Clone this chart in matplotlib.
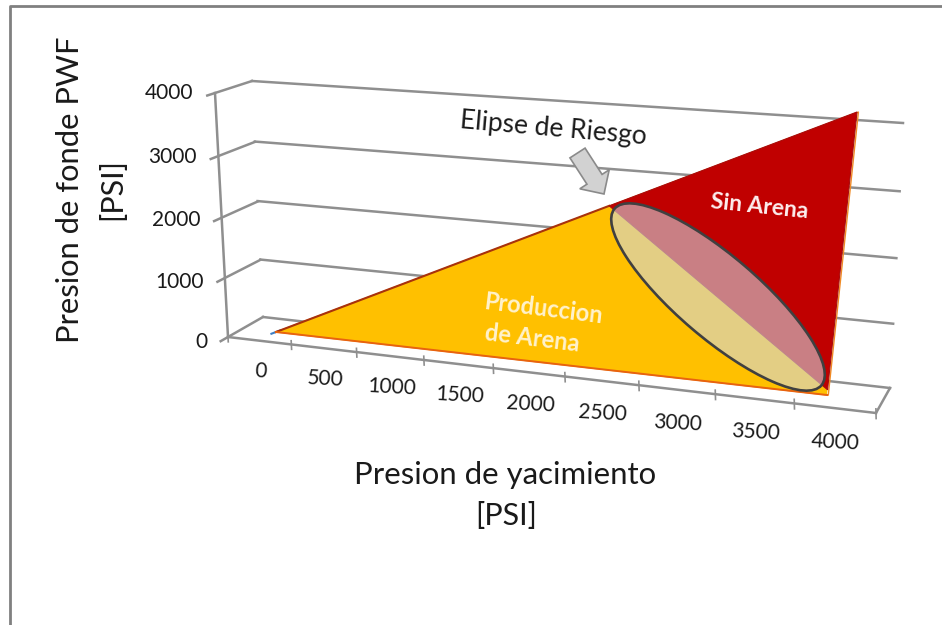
import matplotlib
matplotlib.use("Agg")
import matplotlib.pyplot as plt
import matplotlib.patches as mpatches
import matplotlib.transforms as mtrans
import numpy as np

plt.rcParams['font.family'] = ['Lato', 'DejaVu Sans']

# axis values
pres_ticks = [0, 500, 1000, 1500, 2000, 2500, 3000, 3500, 4000]
pwf_ticks = [0, 1000, 2000, 3000, 4000]

# series (psi)
yellow_x = [0, 4008, 4008]
yellow_y = [0, 0, 4000]
yellow_fill_x = [0, 2520, 4000, 4000]
yellow_fill_y = [0, 2520, 80, 0]
red_x = [2520, 4000, 4000]
red_y = [2520, 4000, 80]
blue_x = [-40, 40]
blue_y = [-40, 40]

GRID = '#8f8f8f'
TEXT = '#1a1a1a'


class Plane(mtrans.Transform):
    # maps a 4 corner quad of data coords onto a 4 corner quad of pixels
    input_dims = 2
    output_dims = 2

    def __init__(self, src, dst):
        super().__init__()
        rows, rhs = [], []
        for (x, y), (u, v) in zip(src, dst):
            rows.append([x, y, 1, 0, 0, 0, -u * x, -u * y])
            rows.append([0, 0, 0, x, y, 1, -v * x, -v * y])
            rhs += [u, v]
        h = np.linalg.solve(np.array(rows, float), np.array(rhs, float))
        self.h = np.append(h, 1).reshape(3, 3)

    def transform_non_affine(self, values):
        pts = np.column_stack([values, np.ones(len(values))]) @ self.h.T
        return pts[:, :2] / pts[:, 2:]


fig = plt.figure(figsize=(9.42, 6.25), dpi=100)
ax = fig.add_axes([0, 0, 1, 1])
ax.set_xlim(0, 942)
ax.set_ylim(625, 0)
ax.axis('off')
ax.autoscale(False)

n_cat = len(pres_ticks)
unit = [(0, 0), (n_cat, 0), (0, 4000), (n_cat, 4000)]
wall = Plane(unit, [(263, 317), (890, 388), (252, 81), (903, 123)]) + ax.transData
front = Plane(unit, [(228, 337), (876, 413), (215, 93), (869, 132)]) + ax.transData
side = Plane([(0, 0), (1, 0), (0, 4000), (1, 4000)],
             [(228, 337), (263, 317), (215, 93), (252, 81)]) + ax.transData
floor = Plane([(0, 0), (n_cat, 0), (0, 1), (n_cat, 1)],
              [(228, 337), (876, 413), (263, 317), (890, 388)]) + ax.transData
series = Plane([(0, 0), (4000, 0), (0, 4000), (4000, 4000)],
               [(276, 332), (827, 395), (262, 88), (857, 112)]) + ax.transData

# outer frame of the pasted chart
ax.plot([10, 10, 942], [625, 6, 6], color='#808080', lw=2, zorder=1)

# walls
for p in pwf_ticks:
    ax.plot([0, n_cat], [p, p], transform=wall, color=GRID, lw=1.8, zorder=2)
    ax.plot([-0.2, 0, 1], [p, p, p], transform=side, color=GRID, lw=1.8, zorder=2)
    ax.text(-0.55, p + 110, str(p), transform=side, ha='right', va='center',
            fontsize=15, color=TEXT, zorder=6)
ax.plot([0, 0], [0, 4000], transform=side, color=GRID, lw=1.8, zorder=2)

# floor
ax.plot([0, n_cat], [0, 0], transform=floor, color=GRID, lw=1.8, zorder=2)
ax.plot([n_cat, n_cat], [0, 1], transform=floor, color=GRID, lw=1.8, zorder=2)
for i in range(n_cat + 1):
    ax.plot([i, i], [60, -80], transform=front, color=GRID, lw=1.2, zorder=2)
for i, p in enumerate(pres_ticks):
    ax.text(i + 0.5, -500, str(p), transform=front, ha='center', va='center',
            fontsize=15, color=TEXT, rotation=-3, zorder=6)

# series
ax.plot(blue_x, blue_y, transform=series, color='#3f7fc4', lw=1.5, zorder=3)
ax.plot(yellow_x + yellow_x[:1], yellow_y + yellow_y[:1], transform=series,
        color='#f08a24', lw=1.0, zorder=3)
ax.fill(yellow_fill_x, yellow_fill_y, transform=series, color='#ffc000', lw=0, zorder=4)
ax.plot(yellow_fill_x[:2], yellow_fill_y[:2], transform=series, color='#a8320c', lw=1.5, zorder=4)
ax.plot(yellow_fill_x[0::3], yellow_fill_y[0::3], transform=series, color='#e8630f', lw=1.4, zorder=4)
ax.fill(red_x, red_y, transform=series, color='#c00000', ec='#a80c0c', lw=0.8, zorder=4)

# risk ellipse, drawn over the chart
ax.add_patch(mpatches.Ellipse((718, 297), 272, 82, angle=40.5, fc='#d0d9e1',
                              ec='none', alpha=0.59, zorder=5))
ax.add_patch(mpatches.Ellipse((718, 297), 272, 82, angle=40.5, fc='none',
                              ec='#404040', lw=1.9, zorder=5))

# arrow
ax.add_patch(mpatches.FancyArrow(577.5, 153, 26.5, 41, width=18, head_width=35,
                                 head_length=17.5, length_includes_head=True,
                                 fc='#d2d2d2', ec='#8a8a8a', lw=1.2, zorder=5))

# labels
ax.text(553, 129, 'Elipse de Riesgo', ha='center', va='center', fontsize=19,
        color=TEXT, rotation=-5, zorder=6)
ax.text(759, 207, 'Sin Arena', ha='center', va='center', fontsize=16.5,
        fontweight='bold', color='#fdeeee', rotation=-6, zorder=6)
ax.text(543, 309, 'Produccion', ha='center', va='center', fontsize=17,
        fontweight='bold', color='#fff2cc', rotation=-7, zorder=6)
ax.text(532, 338, 'de Arena', ha='center', va='center', fontsize=17,
        fontweight='bold', color='#fff2cc', rotation=-7, zorder=6)
ax.text(505, 475, 'Presion de yacimiento', ha='center', va='center', fontsize=22.4, color=TEXT)
ax.text(506, 516, '[PSI]', ha='center', va='center', fontsize=22, color=TEXT)
ax.text(70, 190, 'Presion de fonde PWF', ha='center', va='center', fontsize=22.2,
        rotation=90, color=TEXT)
ax.text(112, 189, '[PSI]', ha='center', va='center', fontsize=22, rotation=90, color=TEXT)

fig.savefig('out.png', dpi=100)
